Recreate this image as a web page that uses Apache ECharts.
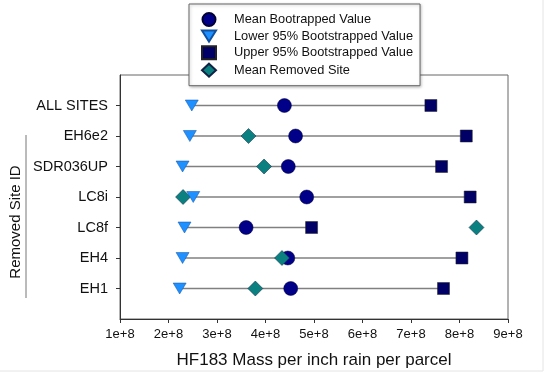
<!DOCTYPE html>
<html>
<head>
<meta charset="utf-8">
<script src="https://cdn.jsdelivr.net/npm/echarts@6/dist/echarts.min.js"></script>
<style>
  html, body { margin: 0; padding: 0; background: #fff; }
  #chart { width: 550px; height: 374px; }
</style>
</head>
<body>
<div id="chart"></div>
<script>
// rows from bottom (y = 1) to top (y = 7)
var sites = ['EH1', 'EH4', 'LC8f', 'LC8i', 'SDR036UP', 'EH6e2', 'ALL SITES'];
var meanVals = [4.52e8, 4.46e8, 3.60e8, 4.85e8, 4.47e8, 4.62e8, 4.39e8];
var lowerVals = [2.23e8, 2.29e8, 2.33e8, 2.51e8, 2.29e8, 2.44e8, 2.48e8];
var upperVals = [7.67e8, 8.05e8, 4.95e8, 8.22e8, 7.63e8, 8.14e8, 7.41e8];
var removedVals = [3.79e8, 4.34e8, 8.35e8, 2.30e8, 3.97e8, 3.65e8, null];

var pts = function (vals) {
  var out = [];
  vals.forEach(function (v, i) {
    if (v != null) out.push([v, i + 1]);
  });
  return out;
};

var rangeData = sites.map(function (s, i) {
  return [lowerVals[i], upperVals[i], i + 1];
});

var fmtX = function (v) {
  return (v / 1e8) + 'e+8';
};

var myChart = echarts.init(document.getElementById('chart'));
var option = {
  animation: false,
  textStyle: { fontFamily: 'Liberation Sans, Arial, sans-serif' },
  legend: {
    orient: 'vertical',
    left: 189,
    top: 4,
    padding: [8, 7, 8, 12],
    itemWidth: 14,
    itemHeight: 13,
    itemGap: 2.5,
    backgroundColor: '#fff',
    borderColor: '#666',
    borderWidth: 1,
    shadowColor: 'rgba(0,0,0,0.25)',
    shadowBlur: 3,
    shadowOffsetX: 1,
    shadowOffsetY: 1,
    textStyle: { fontSize: 12.8, color: '#111', padding: [0, 0, 0, 13] },
    data: ['Mean Bootrapped Value', 'Lower 95% Bootstrapped Value',
      'Upper 95% Bootstrapped Value', 'Mean Removed Site'],
    z: 10
  },
  grid: {
    left: 120,
    right: 42,
    top: 75,
    bottom: 54,
    show: true,
    borderColor: '#666',
    borderWidth: 1
  },
  xAxis: {
    type: 'value',
    min: 1e8,
    max: 9e8,
    interval: 1e8,
    name: 'HF183 Mass per inch rain per parcel',
    nameLocation: 'middle',
    nameGap: 33,
    nameTextStyle: { fontSize: 17, color: '#111' },
    splitLine: { show: false },
    axisLine: { lineStyle: { color: '#333' } },
    axisTick: { show: true, length: 4, inside: false, lineStyle: { color: '#333' } },
    axisLabel: { fontSize: 13, color: '#111', margin: 9, formatter: fmtX }
  },
  yAxis: {
    type: 'value',
    min: 0,
    max: 8,
    interval: 1,
    splitLine: { show: false },
    axisLine: { show: true, lineStyle: { color: '#333' } },
    axisTick: { show: true, length: 4, customValues: [1, 2, 3, 4, 5, 6, 7], lineStyle: { color: '#333' } },
    axisLabel: {
      fontSize: 14.5,
      color: '#111',
      margin: 12,
      customValues: [1, 2, 3, 4, 5, 6, 7],
      formatter: function (v) { return sites[v - 1] || ''; }
    }
  },
  graphic: [
    {
      type: 'text',
      x: 16,
      y: 222,
      rotation: Math.PI / 2,
      style: {
        text: 'Removed Site ID',
        font: '15px "Liberation Sans", Arial, sans-serif',
        fill: '#111',
        align: 'center',
        verticalAlign: 'middle'
      }
    },
    { type: 'line', shape: { x1: 26, y1: 135, x2: 26, y2: 298 }, style: { stroke: '#777', lineWidth: 1 } },
    { type: 'line', shape: { x1: 543, y1: 0, x2: 543, y2: 371 }, style: { stroke: '#e4e4e4', lineWidth: 1 } },
    { type: 'line', shape: { x1: 0, y1: 371, x2: 543, y2: 371 }, style: { stroke: '#e4e4e4', lineWidth: 1 } }
  ],
  series: [
    {
      type: 'custom',
      name: 'range',
      data: rangeData,
      z: 1,
      renderItem: function (params, api) {
        var a = api.coord([api.value(0), api.value(2)]);
        var b = api.coord([api.value(1), api.value(2)]);
        return {
          type: 'line',
          shape: { x1: a[0], y1: a[1], x2: b[0], y2: b[1] },
          style: { stroke: '#808080', lineWidth: 1.5 }
        };
      }
    },
    {
      type: 'scatter',
      name: 'Mean Bootrapped Value',
      data: pts(meanVals),
      symbol: 'circle',
      symbolSize: 14,
      itemStyle: { color: '#000088', borderColor: '#000033', borderWidth: 0.5, opacity: 1 },
      z: 2
    },
    {
      type: 'scatter',
      name: 'Upper 95% Bootstrapped Value',
      data: pts(upperVals),
      symbol: 'rect',
      symbolSize: 12,
      itemStyle: { color: '#000066', borderColor: '#222', borderWidth: 0.5, opacity: 1 },
      z: 3
    },
    {
      type: 'scatter',
      name: 'Mean Removed Site',
      data: pts(removedVals),
      symbol: 'diamond',
      symbolSize: [15, 15],
      itemStyle: { color: '#0a8080', borderColor: '#124', borderWidth: 0.5, opacity: 1 },
      z: 4
    },
    {
      type: 'scatter',
      name: 'Lower 95% Bootstrapped Value',
      data: pts(lowerVals),
      symbol: 'path://M0,0 L10,0 L5,8 Z',
      symbolSize: [13, 11],
      itemStyle: { color: '#1e90ff', borderColor: '#1050a0', borderWidth: 0.5, opacity: 1 },
      z: 5
    }
  ]
};
myChart.setOption(option);
window.onresize = myChart.resize;
</script>
</body>
</html>
